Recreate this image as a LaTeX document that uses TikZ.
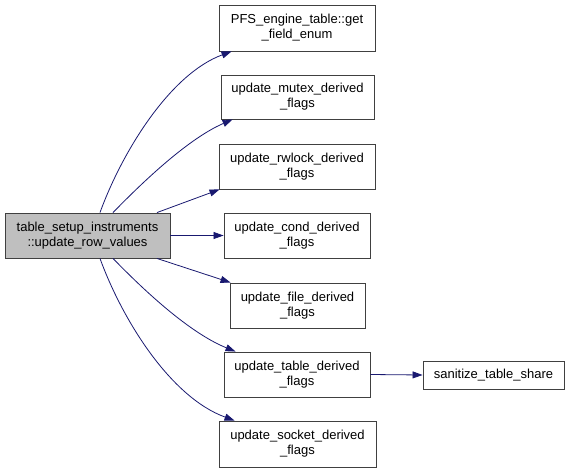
\documentclass[tikz,border=0pt]{standalone}
\usepackage{fontspec}
\setmainfont{Liberation Sans}
\usetikzlibrary{arrows.meta}
\definecolor{edgeblue}{RGB}{25,25,112}
\definecolor{rootgray}{RGB}{191,191,191}
\definecolor{boxline}{RGB}{64,64,64}
\begin{document}
\begin{tikzpicture}[x=1pt,y=-1pt,
    call/.style={draw=edgeblue, line width=.8pt, -{Triangle[length=10pt,width=7pt]}}]

      \useasboundingbox (0,0) rectangle (571,472);

      \begin{scope}[every node/.style={rectangle, draw=boxline, line width=.9pt, fill=white,
          inner sep=0pt, align=center, font=\fontsize{13}{15}\selectfont}]
        \node[fill=rootgray, minimum width=165pt, minimum height=45pt] (root) at (87.5,235.5)
          {table\_setup\_instruments\\::update\_row\_values};
        \node[minimum width=156pt, minimum height=46pt] (get)    at (297,28)    {PFS\_engine\_table::get\\\_field\_enum};
        \node[minimum width=153pt, minimum height=44pt] (mutex)  at (297.5,97)  {update\_mutex\_derived\\\_flags};
        \node[minimum width=156pt, minimum height=45pt] (rwlock) at (297,166.5) {update\_rwlock\_derived\\\_flags};
        \node[minimum width=146pt, minimum height=45pt] (cond)   at (297,235.5) {update\_cond\_derived\\\_flags};
        \node[minimum width=135pt, minimum height=45pt] (file)   at (297.5,305.5) {update\_file\_derived\\\_flags};
        \node[minimum width=146pt, minimum height=45pt] (table)  at (297,374.5) {update\_table\_derived\\\_flags};
        \node[minimum width=157pt, minimum height=46pt] (socket) at (297.5,444) {update\_socket\_derived\\\_flags};
        \node[minimum width=141pt, minimum height=28pt] (sanitize) at (493.5,375) {sanitize\_table\_share};
      \end{scope}

      \begin{scope}[every path/.style={call}]
        \path ([xshift=12.5pt]root.north) .. controls (122,152) and (170,74) .. ([xshift=13pt]get.south west);
        \path ([xshift=25.5pt]root.north) .. controls (135,190) and (185,140) .. ([xshift=12pt]mutex.south west);
        \path ([xshift=69.5pt]root.north) -- ([xshift=1pt]rwlock.south west);
        \path (root.east) -- (cond.west);
        \path ([xshift=69.5pt]root.south) -- ([xshift=1pt]file.north west);
        \path ([xshift=25.5pt]root.south) .. controls (135,281) and (185,331) .. ([xshift=12pt]table.north west);
        \path ([xshift=12.5pt]root.south) .. controls (122,319) and (170,397) .. ([xshift=16pt]socket.north west);
        \path (table.east) -- (sanitize.west);
      \end{scope}

    \end{tikzpicture}
\end{document}
